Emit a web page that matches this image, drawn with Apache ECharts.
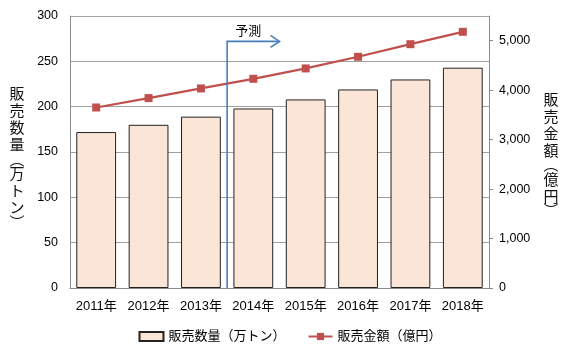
<!DOCTYPE html>
<html><head><meta charset="utf-8">
<script src="https://cdn.jsdelivr.net/npm/echarts@6/dist/echarts.min.js"></script>
<style>html,body{margin:0;padding:0;background:#fff}#c{width:580px;height:360px}</style>
</head><body><div id="c"></div>
<script>
const categories = ['2011年','2012年','2013年','2014年','2015年','2016年','2017年','2018年'];
const volume = [172, 180, 189, 198, 208, 219, 230, 243];      // 販売数量（万トン）
const sales = [3650, 3840, 4035, 4230, 4440, 4675, 4930, 5180]; // 販売金額（億円）
const leftTicks = {min: 0, max: 300, interval: 50};
const rightTicks = {min: 0, max: 5500, interval: 1000};
const forecastStart = 3; // 予測 starts at 2014
const leftTitle = ['販','売','数','量','︵','万','ト','ン','︶'];
const rightTitle = ['販','売','金','額','︵','億','円','︶'];
const FONT = '"Liberation Sans","Noto Sans CJK JP",sans-serif';

const chart = echarts.init(document.getElementById('c'));
chart.setOption({
  animation: false,
  textStyle: {fontFamily: FONT},
  grid: {left: 70, right: 91, top: 16, bottom: 72},
  legend: {
    bottom: 12, left: 'center', itemGap: 22, itemWidth: 24, itemHeight: 9,
    textStyle: {fontSize: 13, color: '#000', fontFamily: FONT},
    data: [
      {name: '販売数量（万トン）', icon: 'rect'},
      {name: '販売金額（億円）'}
    ]
  },
  xAxis: {
    type: 'category', data: categories,
    axisLine: {lineStyle: {color: '#8a8a8a'}},
    axisTick: {show: false},
    axisLabel: {color: '#000', fontSize: 13, margin: 12, interval: 0}
  },
  yAxis: [
    {type: 'value', min: leftTicks.min, max: leftTicks.max, interval: leftTicks.interval,
     axisLine: {show: true, lineStyle: {color: '#8a8a8a'}},
     axisTick: {show: false},
     axisLabel: {color: '#000', fontSize: 12.5, margin: 12},
     splitLine: {lineStyle: {color: '#a0a0a0', width: 1}}},
    {type: 'value', min: rightTicks.min, max: rightTicks.max, interval: rightTicks.interval,
     axisLine: {show: true, lineStyle: {color: '#8a8a8a'}},
     axisTick: {show: true, length: 4, lineStyle: {color: '#8a8a8a'}},
     axisLabel: {color: '#000', fontSize: 12.5, margin: 10, showMaxLabel: false,
       formatter: v => v > 5000 ? '' : v.toLocaleString('en-US')},
     splitLine: {show: false}}
  ],
  series: [
    {name: '販売数量（万トン）', type: 'bar', data: volume, yAxisIndex: 0,
     barCategoryGap: '24%',
     itemStyle: {color: '#fbe5d6', borderColor: '#222', borderWidth: 1}, z: 2},
    {name: '販売金額（億円）', type: 'line', data: sales, yAxisIndex: 1,
     symbol: 'rect', symbolSize: 8, itemStyle: {color: '#c0504d'},
     lineStyle: {color: '#c0504d', width: 2.2}, z: 4}
  ]
});

function verticalTitle(chars) {
  return chars.map(c => (c === '︵' || c === '︶') ? '{p|' + c + '}' : '{c|' + c + '}').join('\n');
}

function drawExtras() {
  const xa = chart.convertToPixel({xAxisIndex: 0}, forecastStart - 1);
  const xb = chart.convertToPixel({xAxisIndex: 0}, forecastStart);
  const xc = chart.convertToPixel({xAxisIndex: 0}, forecastStart + 1);
  const x1 = (xa + xb) / 2, x2 = (xb + xc) / 2;
  const yBot = chart.convertToPixel({yAxisIndex: 0}, 0);
  const yTop = chart.convertToPixel({yAxisIndex: 0}, 272);
  const blue = '#4a7eba';
  const rich = {
    c: {fontSize: 15, lineHeight: 17, fontFamily: FONT, fill: '#111', color: '#111'},
    p: {fontSize: 15, lineHeight: 12, fontFamily: FONT, fill: '#111', color: '#111'}
  };
  chart.setOption({graphic: [
    {type: 'polyline', z: 10, shape: {points: [[x1, yBot], [x1, yTop], [x2, yTop]]},
     style: {stroke: blue, lineWidth: 1.6, fill: null}},
    {type: 'polyline', z: 10, shape: {points: [[x2 - 9, yTop - 6], [x2, yTop], [x2 - 9, yTop + 6]]},
     style: {stroke: blue, lineWidth: 1.6, fill: null}},
    {type: 'text', z: 10, x: (x1 + x2) / 2 - 5, y: yTop - 10,
     style: {text: '予測', fill: '#000', font: '13px ' + FONT, align: 'center', verticalAlign: 'middle'}},
    {type: 'text', x: 17, y: 158,
     style: {text: verticalTitle(leftTitle), rich: rich, align: 'center', verticalAlign: 'middle'}},
    {type: 'text', x: 551, y: 155,
     style: {text: verticalTitle(rightTitle), rich: rich, align: 'center', verticalAlign: 'middle'}}
  ]});
}
drawExtras();
</script></body></html>
